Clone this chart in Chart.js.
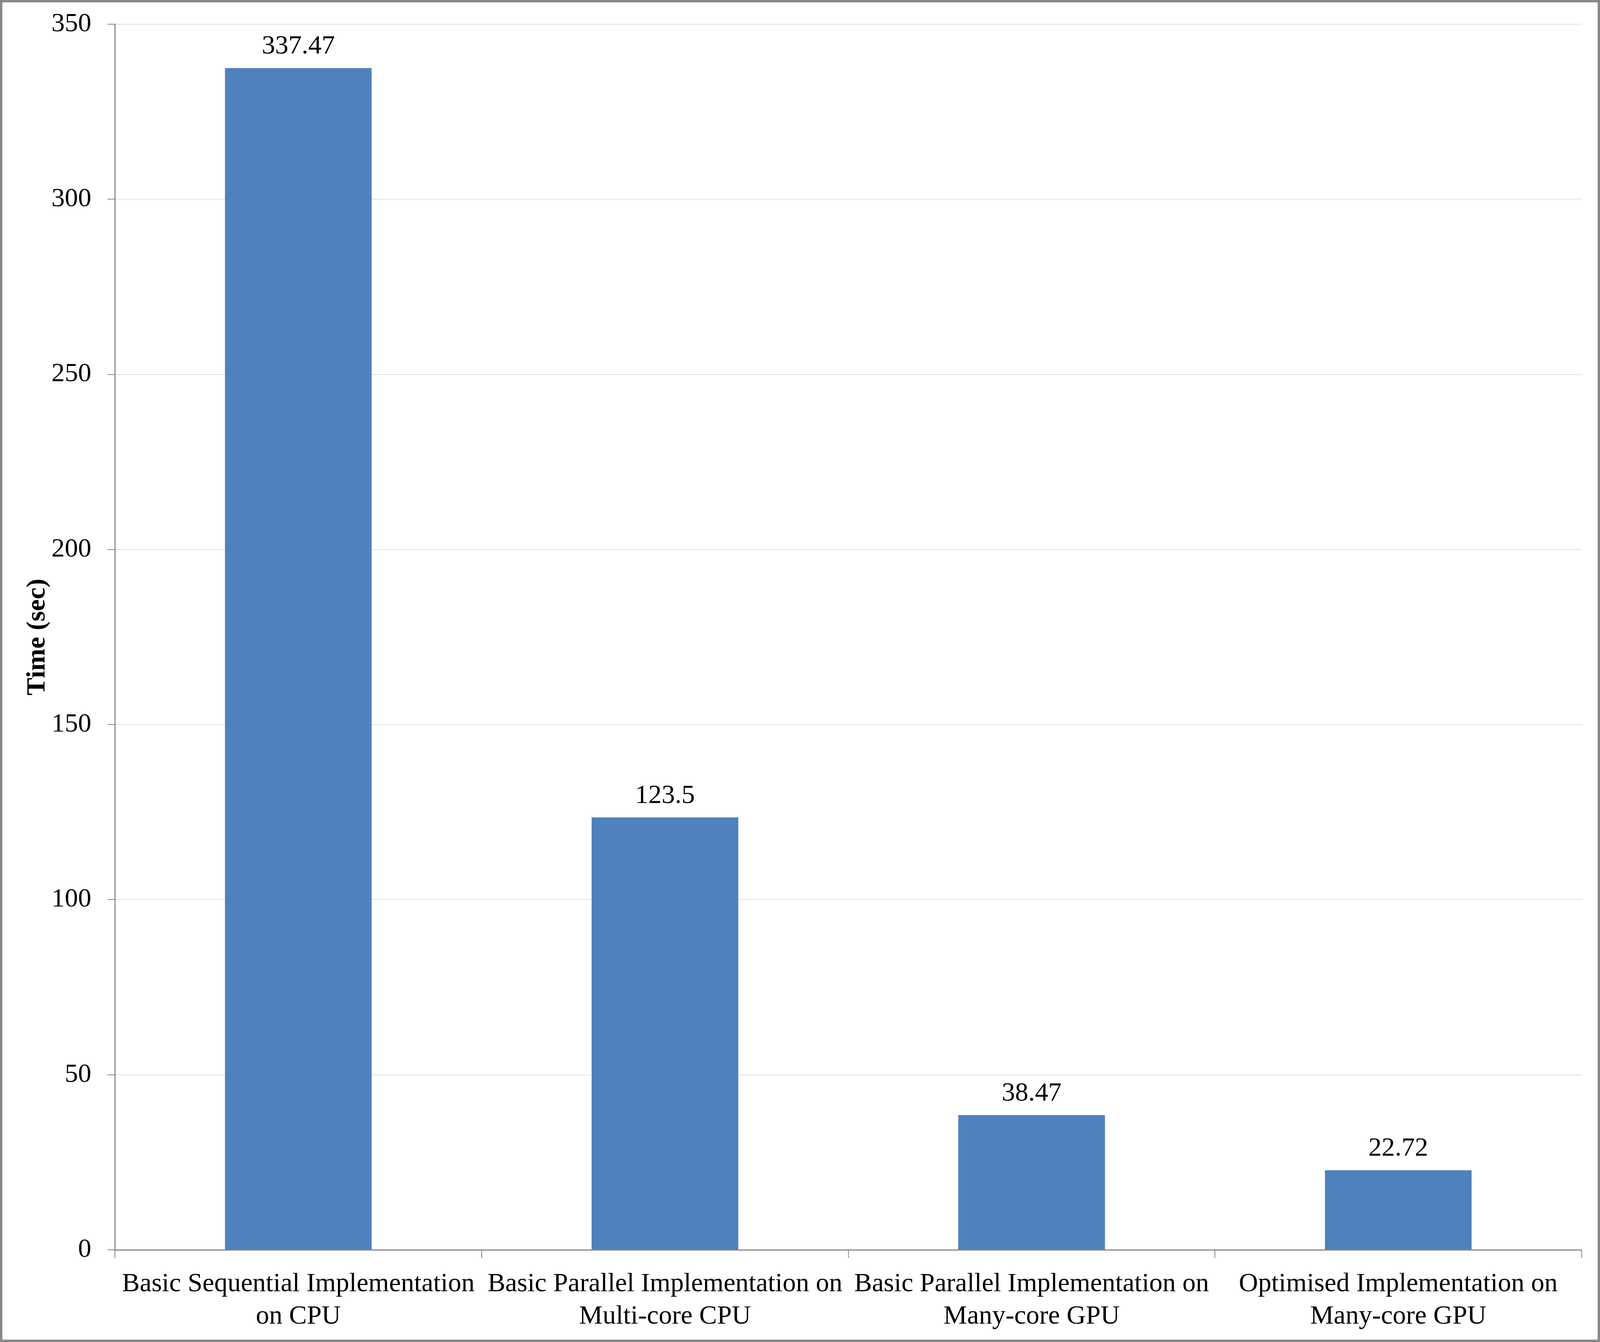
<!DOCTYPE html>
<html>
<head>
<meta charset="utf-8">
<script src="https://cdn.jsdelivr.net/npm/chart.js@4/dist/chart.umd.min.js"></script>
<style>
  html, body { margin: 0; padding: 0; background: #fff; overflow: hidden; }
  #caixa { position: fixed; left: 0; top: 0; width: 100vw; height: 100vh; }
  canvas { display: block; }
</style>
</head>
<body>
<div id="caixa"><canvas id="grafico"></canvas></div>
<script>
// categories and values
const categorias = [
  ["Basic Sequential Implementation", "on CPU"],
  ["Basic Parallel Implementation on", "Multi-core CPU"],
  ["Basic Parallel Implementation on", "Many-core GPU"],
  ["Optimised Implementation on", "Many-core GPU"]
];
const tempos = [337.47, 123.5, 38.47, 22.72];
const rotulos = ["337.47", "123.5", "38.47", "22.72"];
const tituloY = "Time (sec)";

const fonte = "'Liberation Serif', 'Times New Roman', serif";

// the reference is 4258x3436; everything below is scaled to the real window
const sx = window.innerWidth / 4258;
const sy = window.innerHeight / 3436;
const tamFonte = Math.round(68 * sy);

/* fundo branco e moldura cinza */
const moldura = {
  id: "moldura",
  beforeDraw(chart) {
    const ctx = chart.ctx;
    const lw = 6 * sy;
    ctx.save();
    ctx.fillStyle = "#fff";
    ctx.fillRect(0, 0, chart.width, chart.height);
    ctx.strokeStyle = "#878787";
    ctx.lineWidth = lw;
    ctx.strokeRect(lw / 2, lw / 2, chart.width - lw, chart.height - lw);
    ctx.restore();
  }
};

/* valores em cima das barras */
const valores = {
  id: "valores",
  afterDatasetsDraw(chart) {
    const ctx = chart.ctx;
    ctx.save();
    ctx.font = tamFonte + "px " + fonte;
    ctx.fillStyle = "#000";
    ctx.textAlign = "center";
    ctx.textBaseline = "alphabetic";
    chart.getDatasetMeta(0).data.forEach((bar, i) => {
      ctx.fillText(rotulos[i], bar.x, bar.y - 37 * sy);
    });
    ctx.restore();
  }
};

const ctxGrafico = document.getElementById("grafico").getContext("2d");
const grafico = new Chart(ctxGrafico, {
  type: "bar",
  data: {
    labels: categorias,
    datasets: [
      {
        label: "Time",
        data: tempos,
        backgroundColor: "#4F81BD",
        barPercentage: 0.4,
        categoryPercentage: 1.0
      }
    ]
  },
  options: {
    responsive: true,
    maintainAspectRatio: false,
    animation: false,
    layout: {
      padding: { left: 0, top: 62 * sy, right: 49 * sx, bottom: 0 }
    },
    plugins: {
      legend: { display: false },
      tooltip: { enabled: false }
    },
    scales: {
      x: {
        offset: true,
        grid: {
          display: true,
          offset: true,
          drawOnChartArea: false,
          drawTicks: true,
          tickLength: 21 * sy,
          tickColor: "#888",
          lineWidth: 2 * sy
        },
        border: { display: true, color: "#888", width: 3 * sy },
        ticks: {
          color: "#000",
          font: { family: fonte, size: tamFonte, lineHeight: 1.22 },
          padding: 26 * sy,
          maxRotation: 0,
          autoSkip: false
        },
        afterFit(scale) {
          scale.height = 236 * sy;
        }
      },
      y: {
        min: 0,
        max: 350,
        grid: {
          color: "#e0e0e0",
          lineWidth: 2 * sy,
          tickLength: 20 * sx,
          tickColor: "#888"
        },
        border: { display: true, color: "#888", width: 3 * sx },
        ticks: {
          stepSize: 50,
          color: "#000",
          font: { family: fonte, size: tamFonte },
          padding: 43 * sx
        },
        title: {
          display: true,
          text: tituloY,
          color: "#000",
          font: { family: fonte, size: tamFonte, weight: "bold" },
          padding: { top: 58 * sx, bottom: 0 }
        },
        afterFit(scale) {
          scale.width = 306 * sx;
          // the tick padding should not push the plot area down
          scale.paddingTop = 0;
          scale.paddingBottom = 0;
        }
      }
    }
  },
  plugins: [moldura, valores]
});
</script>
</body>
</html>
